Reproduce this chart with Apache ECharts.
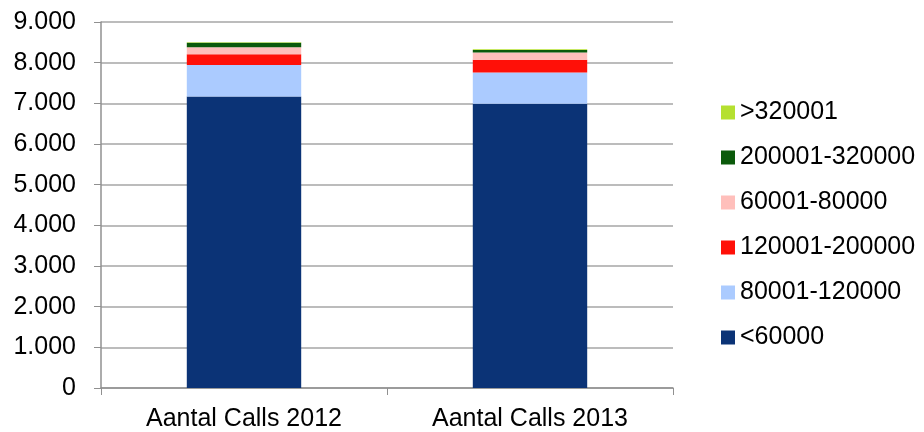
<!DOCTYPE html>
<html><head><meta charset="utf-8">
<script src="https://cdn.jsdelivr.net/npm/echarts@6/dist/echarts.min.js"></script>
<style>html,body{margin:0;padding:0;background:#fff}#c{width:924px;height:432px}</style>
</head><body><div id="c"></div>
<script>
const categories = ['Aantal Calls 2012', 'Aantal Calls 2013'];
const seriesNames = ['<60000', '80001-120000', '120001-200000', '60001-80000', '200001-320000', '>320001'];
const s_lt60000 = [7170, 6990];
const s_80001_120000 = [775, 770];
const s_120001_200000 = [265, 310];
const s_60001_80000 = [170, 180];
const s_200001_320000 = [110, 60];
const s_gt320001 = [12, 20];
const values = [s_lt60000, s_80001_120000, s_120001_200000, s_60001_80000, s_200001_320000, s_gt320001];
const colors = ['#0b3376', '#abcbff', '#ff1008', '#ffbfbb', '#0b5a0b', '#b5e030'];

const chart = echarts.init(document.getElementById('c'));
const font = 'Liberation Sans, Arial, sans-serif';
chart.setOption({
  animation: false,
  grid: {left: 101, right: 251, top: 22, bottom: 43},
  legend: {
    orient: 'vertical', left: 716, top: 95,
    data: seriesNames.slice().reverse(),
    itemWidth: 14, itemHeight: 14, itemGap: 20,
    icon: 'rect',
    textStyle: {fontFamily: font, fontSize: 25, color: '#000'}
  },
  xAxis: {
    type: 'category', data: categories,
    axisLine: {lineStyle: {color: '#909090', width: 1.5}},
    axisTick: {show: true, length: 7, lineStyle: {color: '#909090'}},
    axisLabel: {fontFamily: font, fontSize: 25, color: '#000', margin: 19}
  },
  yAxis: {
    type: 'value', min: 0, max: 9000, interval: 1000,
    axisLine: {show: true, lineStyle: {color: '#909090', width: 1.5}},
    axisTick: {show: true, length: 7, lineStyle: {color: '#909090'}},
    splitLine: {lineStyle: {color: '#a6a6a6', width: 1.5}},
    axisLabel: {fontFamily: font, fontSize: 25, color: '#000', margin: 25,
      formatter: v => v === 0 ? '0' : (v / 1000).toFixed(3)}
  },
  series: seriesNames.map((n, i) => ({
    name: n, type: 'bar', stack: 'a', data: values[i],
    barWidth: '40%', itemStyle: {color: colors[i]}
  }))
});
</script></body></html>
